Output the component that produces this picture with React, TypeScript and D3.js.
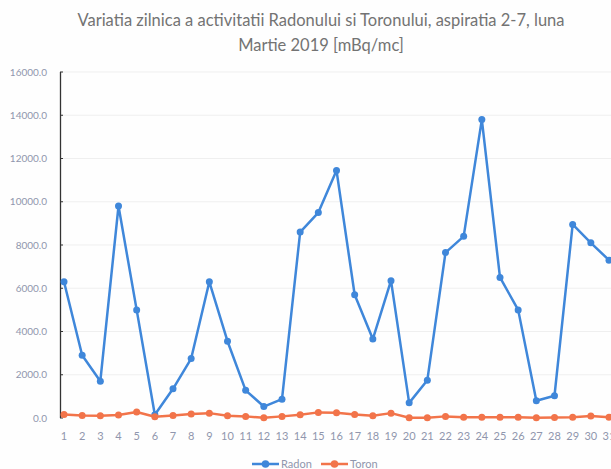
import React from "react";
import * as d3 from "d3";

const days: string[] = Array.from({ length: 31 }, (_, i) => String(i + 1));
const radon: number[] = [6300, 2900, 1700, 9800, 5000, 150, 1350, 2750, 6300, 3550, 1280, 530, 870, 8600, 9500, 11450, 5700, 3650, 6350, 700, 1750, 7650, 8400, 13800, 6500, 5000, 800, 1030, 8950, 8100, 7300];
const toron: number[] = [165, 120, 105, 135, 275, 60, 120, 180, 225, 105, 75, 10, 75, 150, 260, 240, 165, 105, 225, 10, 10, 75, 40, 40, 40, 40, 10, 25, 40, 90, 40];
const yTicks: number[] = [0, 2000, 4000, 6000, 8000, 10000, 12000, 14000, 16000];
const titleLines: string[] = [
  "Variatia zilnica a activitatii Radonului si Toronului, aspiratia 2-7, luna",
  "Martie 2019 [mBq/mc]",
];
const seriesNames: string[] = ["Radon", "Toron"];

const W = 611;
const H = 469;
const BLUE = "#3f87da";
const ORANGE = "#f2744a";
const FONT = "Lato, 'Open Sans', sans-serif";

export default function App() {
  const x = d3.scalePoint<string>().domain(days).range([64, 609]);
  const y = d3.scaleLinear().domain([0, 16000]).range([418, 72]);
  const line = d3
    .line<number>()
    .x((_, i) => x(days[i]) as number)
    .y((d) => y(d));

  const series = [
    { name: seriesNames[0], values: radon, color: BLUE },
    { name: seriesNames[1], values: toron, color: ORANGE },
  ];

  return (
    <svg
      width={W}
      height={H}
      style={{ position: "absolute", left: 0, top: 0, background: "#fff" }}
      fontFamily={FONT}
    >
      <rect x={0} y={0} width={W} height={H} fill="#fefefe" />
      {titleLines.map((t, i) => (
        <text key={i} x={321} y={26 + i * 25} textAnchor="middle" fontSize={16.5} fill="#737373">
          {t}
        </text>
      ))}
      {yTicks.map((t) => (
        <g key={t}>
          {t > 0 && (
            <line x1={61} x2={611} y1={y(t)} y2={y(t)} stroke="#efefef" strokeWidth={1} />
          )}
          <text x={47} y={y(t) + 3.5} textAnchor="end" fontSize={10} fill="#9096ad">
            {t.toFixed(1)}
          </text>
          <line x1={60} x2={63} y1={y(t)} y2={y(t)} stroke="#333" strokeWidth={1} />
        </g>
      ))}
      <line x1={60.5} x2={60.5} y1={y(16000)} y2={y(0)} stroke="#333" strokeWidth={1.3} />
      {days.map((d) => (
        <text key={d} x={x(d)} y={440} textAnchor="middle" fontSize={11} fill="#9096ad">
          {d}
        </text>
      ))}
      {series.map((s) => (
        <g key={s.name}>
          <path d={line(s.values) || ""} fill="none" stroke={s.color} strokeWidth={2.5} strokeLinejoin="round" />
          {s.values.map((v, i) => (
            <circle key={i} cx={x(days[i])} cy={y(v)} r={3.5} fill={s.color} />
          ))}
        </g>
      ))}
      {series.map((s, i) => {
        const lx = 252 + i * 69;
        return (
          <g key={s.name}>
            <line x1={lx} x2={lx + 27} y1={464} y2={464} stroke={s.color} strokeWidth={2.5} />
            <circle cx={lx + 13.5} cy={464} r={3.8} fill={s.color} />
            <text x={lx + 29} y={468} fontSize={11} fill="#9096ad">
              {s.name}
            </text>
          </g>
        );
      })}
    </svg>
  );
}
